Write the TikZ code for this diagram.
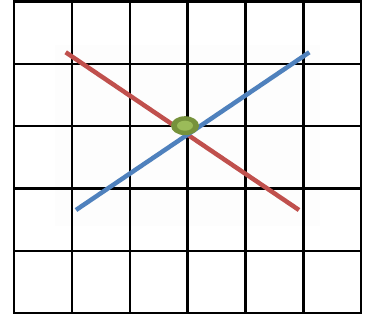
\documentclass[tikz,border=0pt]{standalone}
\definecolor{gridblack}{HTML}{000000}
\definecolor{redline}{HTML}{C0504D}
\definecolor{blueline}{HTML}{4F81BD}
\definecolor{darkgreen}{HTML}{76923C}
\definecolor{lightgreen}{HTML}{9BBB59}
\tikzset{
  gridline/.style={gridblack, line width=2.4pt, line cap=rect},
  stroke/.style={line width=4.5pt, line cap=butt},
}
\begin{document}
\begin{tikzpicture}[x=1pt,y=-1pt]
\useasboundingbox (0,0) rectangle (370,320);
\fill[white] (0,0) rectangle (370,320);
\fill[gray!1.5] (55,45) rectangle (320,226);
% grid
\foreach \x in {14,71.8,129.7,187.5,245.5,303.3,361}
  \draw[gridline] (\x,1.5) -- (\x,313.3);
\foreach \y in {1.5,63.8,126.2,188.5,250.9,313.3}
  \draw[gridline] (14,\y) -- (361,\y);
% lines
\coordinate (r1) at (65.7,52.3);
\coordinate (r2) at (299,210);
\coordinate (b1) at (76,210);
\coordinate (b2) at (309.3,52.3);
\draw[stroke, redline] (r1) -- (r2);
\draw[stroke, blueline] (b1) -- (b2);
% point
\fill[darkgreen] (185,125.7) ellipse (14 and 9.5);
\fill[lightgreen] (185,125.7) ellipse (8 and 5);
\end{tikzpicture}
\end{document}
